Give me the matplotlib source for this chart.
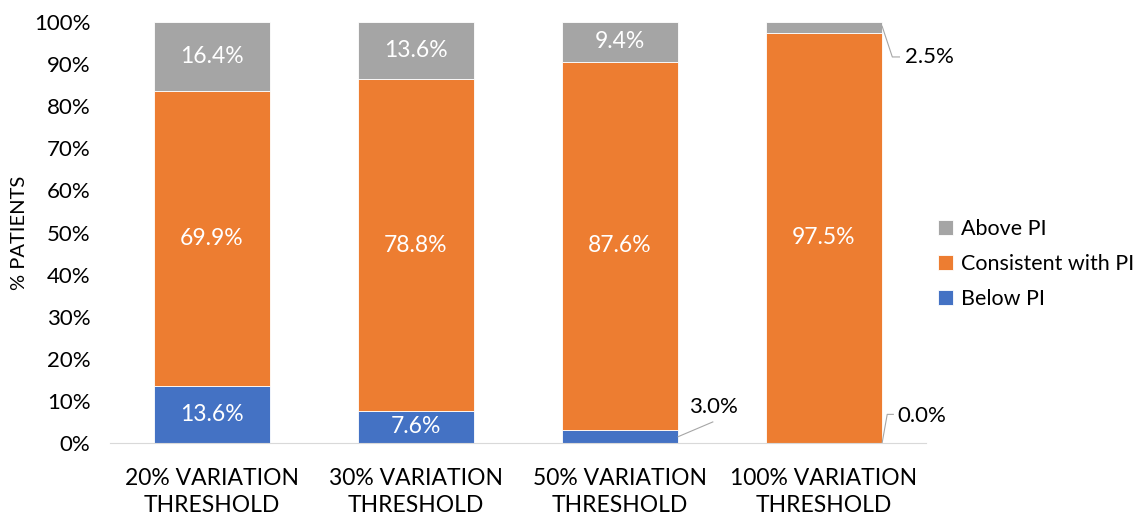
import matplotlib
matplotlib.use("Agg")
import matplotlib.pyplot as plt
import numpy as np

plt.rcParams['font.family'] = ['Lato', 'DejaVu Sans']

# data
categories = ["20% VARIATION\nTHRESHOLD", "30% VARIATION\nTHRESHOLD",
              "50% VARIATION\nTHRESHOLD", "100% VARIATION\nTHRESHOLD"]
below_pi = [13.6, 7.6, 3.0, 0.0]
consistent_pi = [69.9, 78.8, 87.6, 97.5]
above_pi = [16.4, 13.6, 9.4, 2.5]

series_names = ["Below PI", "Consistent with PI", "Above PI"]
colors = ["#4472C4", "#ED7D31", "#A5A5A5"]

fig = plt.figure(figsize=(11.48, 5.18), dpi=100)
ax = fig.add_axes([0.0958, 0.1448, 0.7108, 0.8127])

x = np.arange(len(categories))
width = 0.57
bottom = np.zeros(len(categories))
handles = []
for vals, name, col in zip([below_pi, consistent_pi, above_pi], series_names, colors):
    vals = np.array(vals)
    h = ax.bar(x, vals, width, bottom=bottom, color=col, edgecolor="white",
               linewidth=0.6, label=name)
    handles.append(h)
    for i, v in enumerate(vals):
        if v >= 5:
            ax.text(x[i], bottom[i] + v / 2, f"{v:.1f}%", ha="center", va="center",
                    color="white", fontsize=16.5)
    bottom += vals

# small segments get callout labels with leader lines
lc = "#A6A6A6"
# 3.0% on third bar
xr = x[2] + width / 2
ax.plot([xr, xr + 0.17], [1.5, 5.0], color=lc, lw=0.8)
ax.text(xr + 0.055, 8.6, f"{below_pi[2]:.1f}%", ha="left", va="center", fontsize=16)
# 2.5% on fourth bar
xr = x[3] + width / 2
ax.plot([xr, xr + 0.05, xr + 0.085], [99, 91.7, 91.7], color=lc, lw=0.8, clip_on=False)
ax.text(xr + 0.11, 91.7, f"{above_pi[3]:.1f}%", ha="left", va="center", fontsize=16)
# 0.0% on fourth bar
ax.plot([xr, xr + 0.025, xr + 0.055], [0, 6.8, 6.8], color=lc, lw=0.8)
ax.text(xr + 0.075, 6.3, f"{below_pi[3]:.1f}%", ha="left", va="center", fontsize=16)

ax.set_xlim(-0.5, len(categories) - 0.5)
ax.set_ylim(0, 100)
ax.set_yticks(np.arange(0, 101, 10))
ax.set_yticklabels([f"{t}%" for t in range(0, 101, 10)], fontsize=16)
ax.set_xticks(x)
ax.set_xticklabels(categories, fontsize=16.5, linespacing=1.38)
ax.tick_params(axis="both", length=0)
ax.tick_params(axis="x", pad=18)
ax.tick_params(axis="y", pad=14)
for s in ["top", "right", "left"]:
    ax.spines[s].set_visible(False)
ax.spines["bottom"].set_color("#D9D9D9")
ax.set_ylabel("% PATIENTS", fontsize=14.5, labelpad=4)

leg = fig.legend(handles[::-1], series_names[::-1], loc="center left",
                 bbox_to_anchor=(0.8, 0.49), frameon=False, fontsize=15.5,
                 handlelength=0.7, handleheight=0.7, handletextpad=0.4,
                 labelspacing=0.7)

fig.savefig("out.png", dpi=100)
